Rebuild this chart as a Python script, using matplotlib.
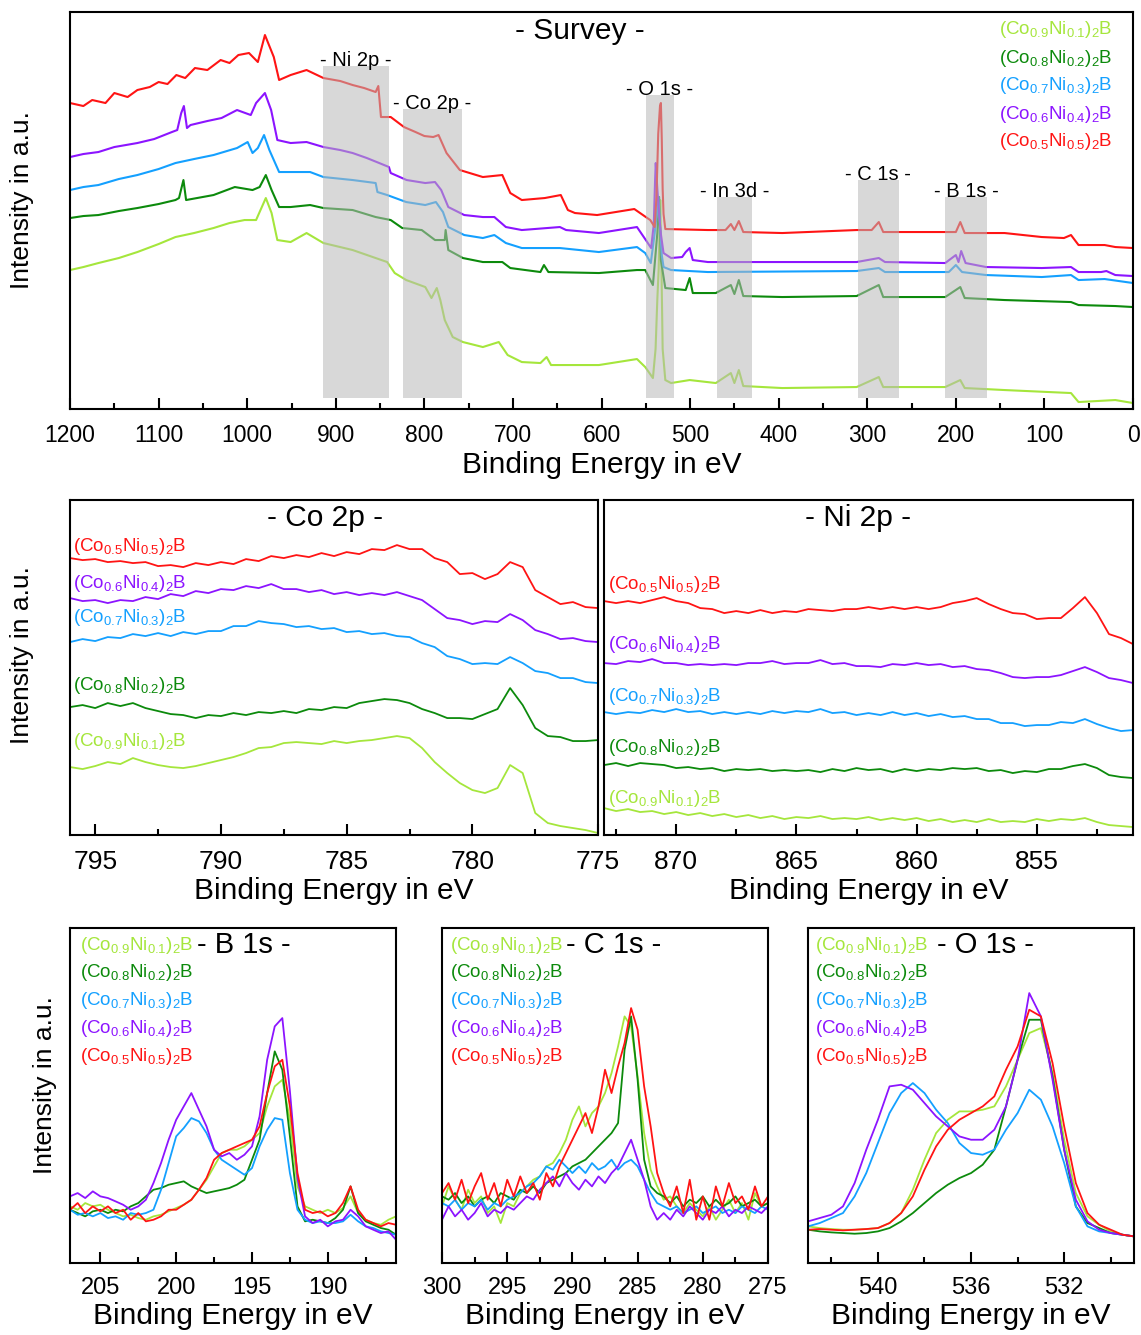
import numpy as np
import matplotlib.pyplot as plt
from matplotlib.ticker import MultipleLocator

plt.rcParams['font.family'] = ['Liberation Sans', 'DejaVu Sans']
plt.rcParams['mathtext.fontset'] = 'custom'
plt.rcParams['mathtext.rm'] = 'Liberation Sans'
plt.rcParams['mathtext.default'] = 'regular'

# Samples, Co-rich first
SAMPLES = [r'(Co$_{0.9}$Ni$_{0.1}$)$_2$B', r'(Co$_{0.8}$Ni$_{0.2}$)$_2$B',
           r'(Co$_{0.7}$Ni$_{0.3}$)$_2$B', r'(Co$_{0.6}$Ni$_{0.4}$)$_2$B',
           r'(Co$_{0.5}$Ni$_{0.5}$)$_2$B']
COLORS = ['#a5e63c', '#0c8a0c', '#14a0ff', '#8c14ff', '#ff1414']

# ---------------- Survey spectra (binding energy in eV, intensity in a.u.) ----------------
SURVEY_EV_09 = [1200, 1185, 1168, 1145, 1124, 1100, 1081, 1060, 1038, 1020, 1003, 990, 979, 972.5, 966, 951,
                933, 914, 881, 842, 833.5, 820.5, 799, 792, 786, 782, 777, 768, 756.5, 734, 716, 706, 690, 669,
                662, 657, 603, 560, 550.7, 542, 539, 537, 535.5, 534.5, 533.7, 532.5, 531, 528, 521.5, 500.5,
                471, 454, 450, 445, 440, 396, 312, 287, 282, 212, 195, 190, 145, 70, 61.5, 20, 0]
SURVEY_I_09 = [139, 142, 146, 151, 157, 165, 172, 176, 181, 186, 189, 189, 211, 196, 169, 167, 176, 166, 159, 147,
               136, 129, 122, 111, 121, 109, 89, 72, 67, 62, 67, 54, 47, 46, 52, 44, 44, 50, 42, 31, 60, 110, 140,
               180, 209, 150, 60, 29, 26, 29, 26, 36, 26, 39, 23, 21, 22, 32, 22, 22, 29, 21, 19, 16, 7, 9, 6]

SURVEY_EV_08 = [1200, 1185, 1168, 1145, 1124, 1100, 1081, 1077, 1072, 1069, 1038, 1014, 994, 986, 979, 972.5,
                964, 951, 929, 914, 881, 855, 838, 825, 803, 788, 777, 776, 773, 756.5, 734, 712, 703, 669, 665,
                660, 603, 560, 550.7, 542, 537, 535, 533, 528, 505, 500.5, 497, 471, 454, 450, 445, 440, 396, 312,
                287, 282, 212, 195, 190, 145, 70, 61.5, 20, 0]
SURVEY_I_08 = [191, 193, 194, 198, 201, 205, 209, 211, 229, 209, 214, 222, 219, 222, 234, 219, 202, 202, 204, 201,
               199, 192, 189, 181, 179, 169, 169, 179, 159, 151, 147, 147, 141, 137, 144, 137, 136, 139, 139, 124,
               176, 212, 149, 121, 119, 131, 116, 116, 124, 115, 129, 113, 112, 113, 124, 112, 112, 122, 111, 109,
               107, 104, 103, 102]

SURVEY_EV_07 = [1200, 1185, 1168, 1145, 1124, 1100, 1081, 1060, 1038, 1011.5, 999.5, 994, 988, 981, 975, 964,
                951, 929, 914, 881, 855, 853, 842, 820.5, 799, 787, 779, 773, 755, 734, 721, 708, 690, 647, 603,
                560, 550.7, 544.4, 540, 537, 536, 535, 534, 532, 530, 521.5, 480, 312, 287, 280, 208, 200, 193,
                166, 103, 70, 61.5, 32, 0]
SURVEY_I_07 = [219, 222, 224, 230, 234, 240, 246, 250, 254, 261, 267, 256, 261, 274, 259, 237, 237, 237, 232, 229,
               226, 217, 214, 207, 204, 207, 197, 182, 174, 171, 174, 166, 161, 161, 157, 162, 156, 146, 176, 200,
               212, 200, 184, 154, 142, 139, 137, 138, 141, 137, 137, 144, 137, 134, 132, 134, 129, 130, 126]

SURVEY_EV_06 = [1200, 1185, 1168, 1150, 1124, 1105, 1085, 1079, 1074.5, 1071.5, 1068, 1064, 1045, 1029, 1011.5,
                996, 990, 980, 973, 966, 951, 933, 914, 895, 881, 865, 851, 840, 838, 820, 799, 788, 781, 773, 755,
                734, 721, 708, 690, 647, 640, 603, 560, 550, 544, 541, 539.5, 538.8, 537, 535, 533, 530, 521.5,
                509, 505, 500.5, 497, 480, 438, 312, 287, 280, 212, 200, 197, 194, 189, 166, 103, 70, 61.5, 36,
                30, 20, 0]
SURVEY_I_06 = [252, 255, 257, 262, 266, 270, 277, 279, 296, 303, 281, 284, 288, 291, 299, 294, 306, 316, 299, 269,
               266, 267, 262, 259, 256, 251, 246, 242, 236, 229, 226, 227, 219, 202, 194, 192, 192, 182, 179, 182,
               179, 176, 182, 169, 161, 185, 230, 246, 220, 195, 175, 156, 151, 152, 157, 161, 149, 147, 147, 147,
               151, 147, 146, 154, 147, 158, 146, 142, 141, 142, 137, 137, 138, 134, 133]

SURVEY_EV_05 = [1200, 1185, 1175, 1160, 1150, 1135, 1124, 1110, 1100, 1090, 1080, 1070, 1059, 1045, 1030, 1020,
                1010, 998, 988, 980, 970, 964, 951, 933, 914, 895, 881, 868, 855, 852, 849, 838, 823, 810, 800, 790,
                784, 775, 760, 734, 712, 703, 690, 664, 646, 638, 630, 605, 563, 550, 545, 540, 538, 536, 534, 533,
                532, 531, 530, 528, 480, 460, 454, 450, 445, 440, 396, 312, 295, 287, 282, 229, 200, 195, 190, 145,
                103, 78, 70, 61.5, 32, 20, 0]
SURVEY_I_05 = [306, 303, 309, 306, 316, 312, 319, 322, 327, 325, 334, 331, 341, 339, 349, 346, 354, 356, 347, 374,
               352, 329, 334, 339, 331, 328, 324, 321, 317, 323, 292, 292, 282, 277, 273, 272, 274, 256, 239, 232,
               234, 216, 209, 211, 214, 199, 196, 194, 200, 192, 189, 182, 212, 275, 303, 306, 270, 220, 195, 180,
               179, 179, 185, 179, 188, 177, 176, 179, 179, 187, 177, 177, 177, 187, 176, 176, 172, 171, 174, 164,
               164, 162, 161]

# marked core-level windows in the survey
REGION_NAMES = ['- Ni 2p -', '- Co 2p -', '- O 1s -', '- In 3d -', '- C 1s -', '- B 1s -']
REGION_START = [915, 824, 550, 470, 311, 212]
REGION_END = [840, 758, 518, 430, 264, 165]
REGION_TOP = [343, 300, 314, 212, 229, 212]
SURVEY_LEGEND_Y = [0.955, 0.884, 0.814, 0.743, 0.673]

# ---------------- Co 2p (796 ... 775 eV, 0.5 eV steps) ----------------
CO2P_EV = np.arange(796, 774.9, -0.5)
CO2P = [
    [68, 66, 69, 73, 71, 77, 73, 70, 68, 67, 69, 72, 75, 78, 82, 87, 88, 92, 93, 92, 91, 94, 92, 94, 95, 97, 99,
     97, 87, 73, 62, 52, 45, 42, 47, 70, 62, 22, 12, 9, 7, 5, 2],
    [128, 130, 127, 132, 129, 132, 127, 124, 121, 120, 117, 120, 119, 122, 120, 123, 122, 124, 122, 126, 125, 128,
     127, 132, 134, 136, 135, 132, 126, 122, 117, 117, 116, 121, 126, 147, 130, 107, 99, 98, 94, 94, 95],
    [193, 196, 194, 198, 197, 201, 199, 202, 199, 203, 201, 204, 204, 209, 209, 214, 212, 211, 208, 209, 206, 207,
     203, 204, 201, 202, 199, 198, 192, 188, 179, 176, 171, 172, 171, 178, 172, 164, 162, 157, 157, 153, 152],
    [237, 234, 235, 232, 235, 234, 238, 236, 241, 239, 244, 242, 246, 245, 249, 247, 251, 246, 246, 243, 245, 241,
     243, 240, 242, 240, 243, 239, 235, 226, 217, 215, 211, 214, 213, 221, 215, 205, 201, 196, 197, 194, 193],
    [277, 275, 276, 273, 274, 272, 273, 269, 270, 268, 272, 270, 273, 271, 276, 274, 279, 277, 280, 278, 282, 279,
     283, 281, 286, 285, 290, 286, 286, 277, 273, 261, 262, 256, 261, 273, 268, 245, 238, 231, 233, 228, 227],
]
CO2P_LABEL_Y = [0.278, 0.445, 0.648, 0.752, 0.86]

# ---------------- Ni 2p (873 ... 851 eV, 0.5 eV steps) ----------------
NI2P_EV = np.arange(873, 850.9, -0.5)
NI2P = [
    [27, 24, 26, 23, 24, 21, 23, 20, 22, 19, 21, 18, 20, 17, 19, 16, 18, 17, 19, 16, 17, 16, 18, 15, 17, 15, 17,
     14, 16, 13, 15, 13, 16, 13, 14, 13, 16, 14, 16, 15, 17, 13, 10, 9, 8],
    [70, 72, 69, 72, 71, 70, 67, 68, 66, 67, 64, 66, 65, 66, 64, 65, 64, 65, 63, 66, 64, 67, 65, 66, 63, 66, 64,
     66, 65, 67, 66, 67, 64, 65, 62, 64, 63, 66, 66, 69, 71, 67, 60, 58, 57],
    [123, 121, 123, 122, 125, 123, 126, 123, 124, 121, 123, 121, 123, 121, 124, 122, 124, 123, 126, 122, 123, 120,
     122, 120, 123, 120, 122, 119, 121, 118, 119, 116, 116, 112, 112, 109, 110, 110, 113, 112, 116, 111, 107, 104,
     105],
    [172, 171, 174, 173, 176, 172, 172, 170, 171, 170, 171, 170, 172, 172, 174, 171, 172, 172, 175, 171, 172, 169,
     169, 168, 171, 170, 172, 170, 171, 168, 169, 166, 165, 162, 158, 157, 158, 158, 160, 164, 168, 163, 157, 155,
     152],
    [234, 232, 234, 232, 235, 238, 234, 232, 227, 226, 222, 224, 222, 225, 222, 224, 223, 226, 225, 224, 226, 226,
     228, 226, 228, 226, 228, 226, 228, 232, 234, 237, 231, 226, 222, 221, 216, 217, 217, 227, 238, 222, 201, 197,
     191],
]
NI2P_LABEL_Y = [0.110, 0.260, 0.415, 0.570, 0.749]

# ---------------- B 1s (207 ... 185.5 eV, 0.5 eV steps) ----------------
B1S_EV = np.arange(207, 185.4, -0.5)
B1S = [
    [56.7, 53.3, 60, 56.7, 58.3, 53.3, 50, 46.7, 48.3, 45, 43.3, 46.7, 48.3, 51.7, 55, 58.3, 63.3, 73.3, 83.3, 96.7,
     110, 113.3, 113.3, 116.7, 123.3, 130, 156.7, 176.7, 183.3, 143.3, 76.7, 56.7, 53.3, 50, 53.3, 50, 55, 66.7, 50,
     43.3, 40, 38.3, 43.3, 46.7],
    [53.3, 50, 46.7, 51.7, 53.3, 50, 53.3, 51.7, 56.7, 60, 66.7, 73.3, 75, 78.3, 80, 81.7, 76.7, 73.3, 70, 71.7,
     73.3, 75, 78.3, 83.3, 103.3, 123.3, 170, 211.7, 193.3, 126.7, 56.7, 41.7, 43.3, 41.7, 40, 45, 53.3, 76.7, 50,
     41.7, 38.3, 35, 33.3, 28.3],
    [53.3, 48.3, 50, 46.7, 50, 45, 46.7, 43.3, 50, 48.3, 50, 53.3, 73.3, 100, 126.7, 135, 145, 141.7, 130, 113.3,
     103.3, 98.3, 93.3, 88.3, 95, 116.7, 133.3, 145, 143.3, 90, 53.3, 43.3, 40, 41.7, 40, 40, 41.7, 48.3, 41.7,
     36.7, 35, 31.7, 30, 28.3],
    [66.7, 70, 65, 71.7, 66.7, 65, 61.7, 58.3, 53.3, 56.7, 63.3, 80, 100, 123.3, 143.3, 156.7, 170, 153.3, 136.7,
     113.3, 106.7, 110, 103.3, 108.3, 116.7, 146.7, 203.3, 236.7, 245, 172, 85, 46.7, 40, 43.3, 36.7, 41.7, 43.3,
     53.3, 46.7, 36.7, 33.3, 30, 31.7, 23.3],
    [53.3, 60, 50, 56.7, 51.7, 56.7, 50, 53.3, 43.3, 50, 41.7, 43.3, 46.7, 53.3, 53.3, 58.3, 63.3, 73.3, 85, 103.3,
     110, 113.3, 116.7, 120, 123.3, 136.7, 170, 196.7, 203.3, 156.7, 90, 53.3, 50, 51.7, 46.7, 50, 60, 76.7, 53.3,
     43.3, 40, 36.7, 40, 38.3],
]

# ---------------- C 1s (300 ... 275 eV, 0.5 eV steps) ----------------
C1S_EV = np.arange(300, 274.9, -0.5)
C1S = [
    [170, 230, 190, 160, 220, 180, 200, 150, 170, 120, 180, 170, 210, 230, 250, 260, 290, 300, 330, 370, 430, 470,
     410, 450, 470, 510, 570, 650, 740, 710, 560, 390, 280, 230, 190, 200, 170, 150, 180, 160, 140, 170, 130, 160,
     190, 150, 180, 130, 210, 170, 180],
    [200, 190, 210, 180, 200, 170, 190, 200, 180, 210, 200, 190, 220, 210, 230, 210, 240, 250, 260, 270, 290, 300,
     310, 330, 350, 370, 390, 420, 640, 740, 550, 310, 230, 210, 200, 180, 200, 170, 190, 180, 200, 170, 190, 170,
     180, 200, 170, 180, 190, 170, 180],
    [180, 170, 190, 160, 180, 170, 190, 160, 180, 170, 190, 200, 210, 230, 240, 260, 290, 280, 310, 290, 270, 290,
     270, 300, 280, 290, 310, 280, 300, 310, 290, 250, 210, 180, 170, 160, 170, 150, 160, 170, 150, 160, 170, 150,
     160, 150, 170, 160, 150, 170, 160],
    [130, 170, 140, 160, 130, 150, 180, 140, 160, 150, 170, 160, 180, 200, 190, 220, 240, 260, 230, 270, 240, 220,
     250, 230, 260, 240, 270, 290, 330, 370, 310, 250, 170, 130, 150, 130, 160, 140, 170, 150, 130, 160, 150, 170,
     140, 160, 150, 170, 160, 150, 170],
    [210, 240, 190, 250, 180, 230, 270, 190, 240, 170, 250, 200, 260, 210, 240, 190, 270, 230, 290, 330, 370, 410,
     450, 390, 470, 580, 510, 590, 660, 765, 700, 530, 410, 270, 210, 170, 230, 150, 250, 130, 200, 130, 230, 170,
     240, 180, 200, 160, 230, 170, 200],
]

# ---------------- O 1s (543 ... 529 eV, 0.5 eV steps) ----------------
O1S_EV = np.arange(543, 528.9, -0.5)
O1S = [
    [110, 105, 102, 100, 100, 102, 105, 120, 150, 220, 310, 390, 430, 455, 455, 460, 470, 530, 610, 690, 705, 570,
     370, 210, 140, 115, 95, 85, 80],
    [100, 95, 92, 90, 88, 90, 95, 105, 125, 150, 180, 210, 235, 255, 270, 295, 340, 470, 610, 730, 730, 560, 340,
     170, 120, 105, 90, 85, 80],
    [110, 120, 135, 150, 200, 270, 360, 450, 510, 540, 510, 460, 420, 360, 330, 325, 340, 400, 450, 520, 490, 410,
     300, 170, 110, 95, 90, 85, 80],
    [125, 135, 145, 170, 240, 340, 430, 530, 535, 520, 480, 440, 410, 380, 370, 370, 400, 470, 610, 810, 740, 550,
     340, 190, 125, 100, 90, 85, 80],
    [100, 102, 100, 98, 100, 102, 105, 120, 150, 200, 280, 350, 400, 430, 450, 470, 500, 580, 650, 760, 740, 600,
     410, 240, 150, 115, 100, 85, 80],
]

LEGEND_Y = [0.949, 0.866, 0.785, 0.701, 0.618]


def style_axis(ax, xlim, ylim, major, minor, labelsize, pad):
    ax.set_xlim(*xlim)
    ax.set_ylim(*ylim)
    ax.xaxis.set_major_locator(MultipleLocator(major))
    ax.xaxis.set_minor_locator(MultipleLocator(minor))
    ax.tick_params(axis='x', which='major', direction='in', length=8, width=1.5,
                   labelsize=labelsize, pad=pad)
    ax.tick_params(axis='x', which='minor', direction='in', length=4, width=1.5)
    ax.set_yticks([])
    for spine in ax.spines.values():
        spine.set_linewidth(1.5)


fig = plt.figure(figsize=(11.41, 13.35), dpi=100)

# Survey
ax = fig.add_axes([0.0614, 0.6936, 0.9316, 0.2974])
survey = [(SURVEY_EV_09, SURVEY_I_09), (SURVEY_EV_08, SURVEY_I_08), (SURVEY_EV_07, SURVEY_I_07),
          (SURVEY_EV_06, SURVEY_I_06), (SURVEY_EV_05, SURVEY_I_05)]
for (ev, inten), color in zip(survey, COLORS):
    ax.plot(ev, inten, color=color, lw=1.5)
for name, x0, x1, top in zip(REGION_NAMES, REGION_START, REGION_END, REGION_TOP):
    ax.fill_between([x0, x1], 11, top, color='#b8b8b8', alpha=0.55, lw=0, zorder=3)
    ax.text((x0 + x1) / 2, top - 4, name, ha='center', va='bottom', fontsize=14.5)
ax.text(0.48, 0.952, '- Survey -', transform=ax.transAxes, ha='center', va='center', fontsize=21.5)
for name, color, y in zip(SAMPLES, COLORS, SURVEY_LEGEND_Y):
    ax.text(0.981, y, name, color=color, transform=ax.transAxes,
            ha='right', va='center', fontsize=13.5)
style_axis(ax, (1200, 0), (0, 397), 100, 50, 16.5, 11)
ax.set_xlabel('Binding Energy in eV', fontsize=21.5, labelpad=3)

# Co 2p
ax = fig.add_axes([0.0614, 0.3745, 0.4628, 0.2509])
for i, color in enumerate(COLORS):
    ax.plot(CO2P_EV, CO2P[i], color=color, lw=1.3)
    ax.text(0.006, CO2P_LABEL_Y[i], SAMPLES[i], color=color, transform=ax.transAxes,
            ha='left', va='center', fontsize=13.5)
ax.text(0.483, 0.946, '- Co 2p -', transform=ax.transAxes, ha='center', va='center', fontsize=21.5)
style_axis(ax, (796, 775), (0, 335), 5, 2.5, 19, 11)
ax.set_xlabel('Binding Energy in eV', fontsize=21.5, labelpad=2)

# Ni 2p
ax = fig.add_axes([0.5294, 0.3745, 0.4636, 0.2509])
for i, color in enumerate(COLORS):
    ax.plot(NI2P_EV, NI2P[i], color=color, lw=1.3)
    ax.text(0.008, NI2P_LABEL_Y[i], SAMPLES[i], color=color, transform=ax.transAxes,
            ha='left', va='center', fontsize=13.5)
ax.text(0.48, 0.946, '- Ni 2p -', transform=ax.transAxes, ha='center', va='center', fontsize=21.5)
style_axis(ax, (873, 851), (0, 335), 5, 2.5, 19, 11)
ax.set_xlabel('Binding Energy in eV', fontsize=21.5, labelpad=2)

# B 1s, C 1s, O 1s
small = [
    (0.0614, B1S_EV, B1S, (207, 185.5), (0, 335), 5, 2.5, '- B 1s -', 0.03, 0.39),
    (0.3874, C1S_EV, C1S, (300, 275), (0, 1005), 5, 2.5, '- C 1s -', 0.025, 0.38),
    (0.7082, O1S_EV, O1S, (543, 529), (0, 1005), 4, 2, '- O 1s -', 0.02, 0.397),
]
for left, ev, data, xlim, ylim, major, minor, title, lx, tx in small:
    ax = fig.add_axes([left, 0.0539, 0.2857, 0.2509])
    for i, color in enumerate(COLORS):
        ax.plot(ev, data[i], color=color, lw=1.3)
        ax.text(lx, LEGEND_Y[i], SAMPLES[i], color=color, transform=ax.transAxes,
                ha='left', va='center', fontsize=13.5)
    ax.text(tx, LEGEND_Y[0], title, transform=ax.transAxes, ha='left', va='center', fontsize=21)
    style_axis(ax, xlim, ylim, major, minor, 17, 10)
    ax.set_xlabel('Binding Energy in eV', fontsize=21.5, labelpad=2)

fig.text(0.0193, 0.8502, 'Intensity in a.u.', rotation=90, ha='center', va='center', fontsize=19)
fig.text(0.0193, 0.5094, 'Intensity in a.u.', rotation=90, ha='center', va='center', fontsize=19)
fig.text(0.0394, 0.1873, 'Intensity in a.u.', rotation=90, ha='center', va='center', fontsize=19)

fig.savefig('out.png', dpi=100)
